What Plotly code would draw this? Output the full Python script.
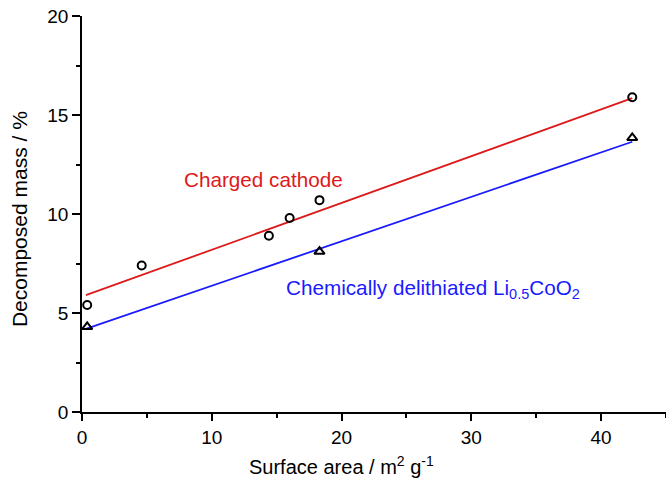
import plotly.graph_objects as go

# Data
charged_x = [0.4, 4.6, 14.4, 16.0, 18.3, 42.4]
charged_y = [5.4, 7.4, 8.9, 9.8, 10.7, 15.9]
chem_x = [0.4, 18.3, 42.4]
chem_y = [4.3, 8.1, 13.85]
fit_x = [0.3, 42.4]
charged_fit = [5.9, 15.85]
chem_fit = [4.2, 13.65]

x_ticks = [0, 10, 20, 30, 40]
y_ticks = [0, 5, 10, 15, 20]

RED = "#dd1a1a"
BLUE = "#1a1aff"
FONT = "Liberation Sans, Arial, sans-serif"

fig = go.Figure()
fig.add_trace(go.Scatter(x=fit_x, y=charged_fit, mode="lines",
                         line=dict(color=RED, width=1.8), showlegend=False))
fig.add_trace(go.Scatter(x=fit_x, y=chem_fit, mode="lines",
                         line=dict(color=BLUE, width=1.8), showlegend=False))
fig.add_trace(go.Scatter(x=charged_x, y=charged_y, mode="markers",
                         marker=dict(symbol="circle-open", size=8, color="black",
                                     line=dict(width=2, color="black")),
                         showlegend=False))
fig.add_trace(go.Scatter(x=chem_x, y=chem_y, mode="markers",
                         marker=dict(symbol="triangle-up-open", size=9, color="black",
                                     line=dict(width=2, color="black")),
                         showlegend=False))

fig.add_annotation(x=7.71, y=11.75, xref="x", yref="y", text="Charged cathode",
                   showarrow=False, xanchor="left", yanchor="middle",
                   font=dict(family=FONT, size=20.7, color=RED))
fig.add_annotation(x=15.57, y=6.2, xref="x", yref="y",
                   text="Chemically delithiated Li<sub>0.5</sub>CoO<sub>2</sub>",
                   showarrow=False, xanchor="left", yanchor="middle",
                   font=dict(family=FONT, size=20.7, color=BLUE))
fig.add_annotation(x=0.445, y=-0.134, xref="paper", yref="paper",
                   text="Surface area / m<sup>2</sup> g<sup>-1</sup>",
                   showarrow=False, xanchor="center", yanchor="middle",
                   font=dict(family=FONT, size=20, color="black"))
fig.add_annotation(x=-0.108, y=0.487, xref="paper", yref="paper",
                   text="Decomposed mass / %", textangle=-90,
                   showarrow=False, xanchor="center", yanchor="middle",
                   font=dict(family=FONT, size=21, color="black"))

fig.update_xaxes(range=[0, 45], tickvals=x_ticks, ticks="outside", ticklen=7,
                 tickwidth=1.5, tickcolor="black", showline=True, linecolor="black",
                 linewidth=1.5, showgrid=False, zeroline=False,
                 tickfont=dict(family=FONT, size=19, color="black"),
                 minor=dict(dtick=5, tick0=0, ticks="outside", ticklen=4,
                            tickwidth=1.5, tickcolor="black", showgrid=False))
fig.update_yaxes(range=[0, 20], tickvals=y_ticks, ticks="outside", ticklen=8,
                 tickwidth=1.5, tickcolor="black", showline=True, linecolor="black",
                 linewidth=1.5, showgrid=False, zeroline=False,
                 tickfont=dict(family=FONT, size=19, color="black"),
                 minor=dict(dtick=2.5, tick0=0, ticks="outside", ticklen=4,
                            tickwidth=1.5, tickcolor="black", showgrid=False))

fig.update_layout(width=666, height=479, margin=dict(l=82, r=0, t=16, b=67),
                  plot_bgcolor="white", paper_bgcolor="white",
                  font=dict(family=FONT))

fig.write_html("out.html", config={"displayModeBar": False},
               post_script="document.body.style.margin='0';document.body.style.padding='0';")
